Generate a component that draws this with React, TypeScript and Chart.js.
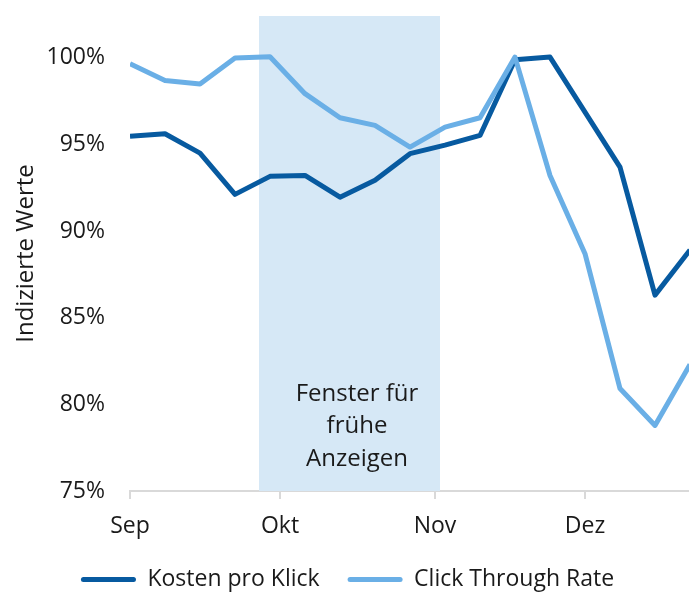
import React, { useEffect, useRef } from "react";
import { Chart, registerables } from "chart.js";

Chart.register(...registerables);

// Days since 1 September for each weekly observation
const weekDays = [0, 7, 14, 21, 28, 35, 42, 49, 56, 63, 70, 77, 84, 91, 98, 105, 112];
const kostenProKlick = [95.46, 95.61, 94.49, 92.11, 93.15, 93.2, 91.95, 92.92, 94.46, 94.95, 95.51, 99.88, 100.03, 96.86, 93.68, 86.3, 88.9];
const clickThroughRate = [99.64, 98.68, 98.48, 99.98, 100.05, 97.92, 96.53, 96.09, 94.84, 95.99, 96.53, 100.03, 93.2, 88.69, 80.91, 78.78, 82.3];

const monthTickDays = [0, 30, 61, 91];
const monthLabels = ["Sep", "Okt", "Nov", "Dez"];
const yTickValues = [75, 80, 85, 90, 95, 100];

const windowStartDay = 25.8;
const windowEndDay = 62;
const windowLabelLines = ["Fenster für", "frühe", "Anzeigen"];
const windowLabelDay = 45.4;
const windowLabelValue = 80.6;

const seriesNames = ["Kosten pro Klick", "Click Through Rate"];
const yAxisTitle = "Indizierte Werte";

const FONT = "'Open Sans', 'Noto Sans', sans-serif";
const TEXT = "#1a1a1a";
const DARK = "#075AA0";
const LIGHT = "#6AAFE6";
const SHADE = "#D6E8F6";
const AXIS = "#D9D9D9";

const windowPlugin = {
  id: "earlyWindow",
  beforeDatasetsDraw(chart: any) {
    const { ctx, chartArea, scales } = chart;
    const x = scales.x;
    const x0 = x.getPixelForValue(windowStartDay);
    const x1 = x.getPixelForValue(windowEndDay);
    ctx.save();
    ctx.fillStyle = SHADE;
    ctx.fillRect(x0, chartArea.top, x1 - x0, chartArea.bottom - chartArea.top);
    ctx.fillStyle = TEXT;
    ctx.font = `24px ${FONT}`;
    ctx.textAlign = "center";
    ctx.textBaseline = "middle";
    const cx = x.getPixelForValue(windowLabelDay);
    const baseY = scales.y.getPixelForValue(windowLabelValue);
    windowLabelLines.forEach((line, i) => {
      ctx.fillText(line, cx, baseY + i * 32.5);
    });
    ctx.restore();
  },
};

export default function App() {
  const ref = useRef<HTMLCanvasElement | null>(null);

  useEffect(() => {
    if (!ref.current) return;
    const chart = new Chart(ref.current, {
      type: "line",
      data: {
        datasets: [
          {
            label: seriesNames[0],
            data: weekDays.map((d, i) => ({ x: d, y: kostenProKlick[i] })),
            borderColor: DARK,
            backgroundColor: DARK,
            borderWidth: 5,
            pointRadius: 0,
            borderJoinStyle: "round",
            order: 1,
          },
          {
            label: seriesNames[1],
            data: weekDays.map((d, i) => ({ x: d, y: clickThroughRate[i] })),
            borderColor: LIGHT,
            backgroundColor: LIGHT,
            borderWidth: 5,
            pointRadius: 0,
            borderJoinStyle: "round",
            order: 0,
          },
        ],
      },
      options: {
        responsive: false,
        animation: false,
        layout: { padding: { left: 5, right: 10, top: 16, bottom: 4 } },
        plugins: {
          tooltip: { enabled: false },
          legend: {
            position: "bottom",
            labels: {
              font: { family: FONT, size: 23 },
              color: TEXT,
              boxWidth: 55,
              boxHeight: 5,
              useBorderRadius: true,
              borderRadius: 2.5,
              padding: 28,
              sort: (a: any, b: any) => a.datasetIndex - b.datasetIndex,
              generateLabels: (c: any) =>
                (Chart.defaults.plugins.legend.labels.generateLabels as any)(c).map((l: any) => ({
                  ...l,
                  fillStyle: l.strokeStyle,
                  lineWidth: 0,
                })),
            },
          },
        },
        scales: {
          x: {
            type: "linear",
            min: 0,
            max: 112,
            grid: { display: true, drawOnChartArea: false, drawTicks: true, tickLength: 8, color: AXIS, lineWidth: 2 },
            border: { display: true, color: AXIS, width: 2 },
            afterBuildTicks: (s: any) => {
              s.ticks = monthTickDays.map((v) => ({ value: v }));
            },
            afterFit: (s: any) => {
              s.height = 49;
            },
            ticks: {
              autoSkip: false,
              maxRotation: 0,
              padding: 14,
              color: TEXT,
              font: { family: FONT, size: 23 },
              callback: (v: any) => {
                const i = monthTickDays.indexOf(Number(v));
                return i >= 0 ? monthLabels[i] : "";
              },
            },
          },
          y: {
            min: 75,
            max: 102.4,
            grid: { display: false, drawTicks: false },
            border: { display: false },
            afterBuildTicks: (s: any) => {
              s.ticks = yTickValues.map((v) => ({ value: v }));
            },
            afterFit: (s: any) => {
              s.width = 125;
              s.paddingTop = 0;
              s.paddingBottom = 0;
            },
            ticks: {
              padding: 25,
              color: TEXT,
              font: { family: FONT, size: 23 },
              callback: (v: any) => `${v}%`,
            },
            title: {
              display: true,
              text: yAxisTitle,
              color: TEXT,
              font: { family: FONT, size: 24 },
              padding: { top: 7, bottom: 0 },
            },
          },
        },
      },
      plugins: [windowPlugin],
    } as any);
    return () => chart.destroy();
  }, []);

  return (
    <div style={{ position: "fixed", left: 0, top: 0, width: 689, height: 592, overflow: "hidden", background: "#fff" }}>
      <canvas ref={ref} width={700} height={605} style={{ position: "absolute", left: 0, top: 0, width: 700, height: 605 }} />
    </div>
  );
}
